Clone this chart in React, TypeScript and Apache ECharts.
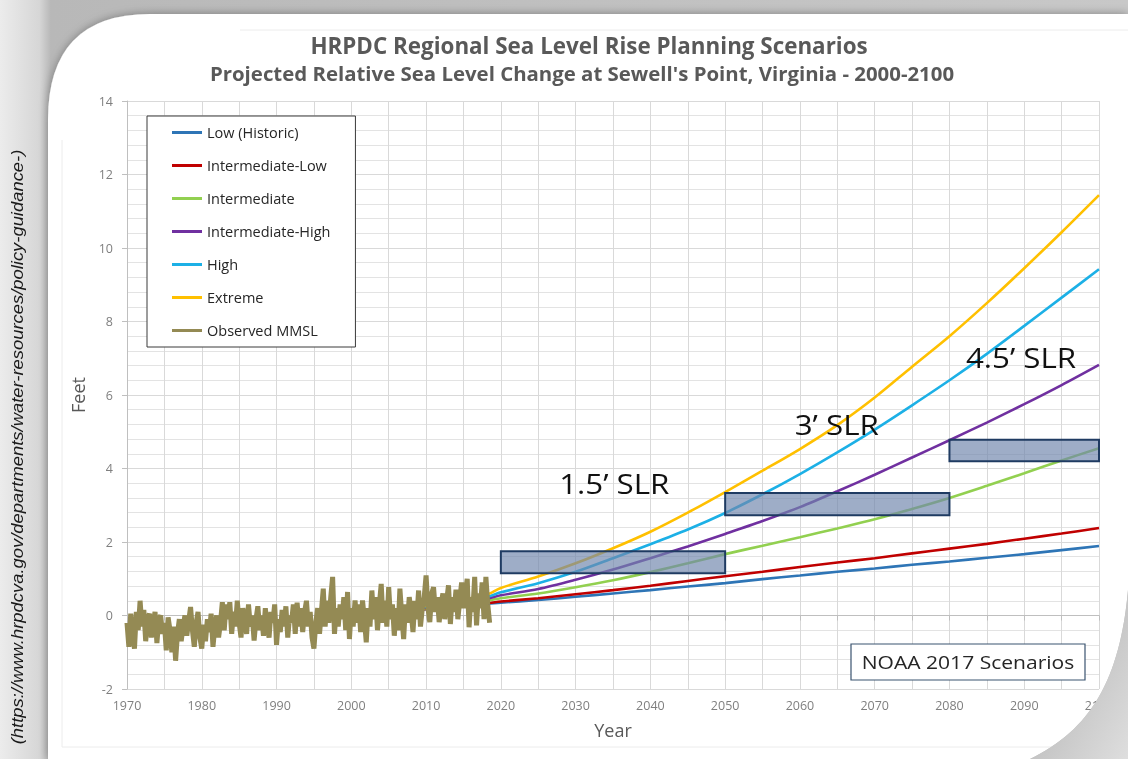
import React, { useEffect, useRef } from "react";
import * as echarts from "echarts";

// ---------- DATA ----------
const scenarioYears = [2000, 2010, 2018, 2020, 2025, 2030, 2035, 2040, 2045, 2050, 2055, 2060, 2065, 2070, 2075, 2080, 2085, 2090, 2095, 2100];
const lowHistoric = [0.0, 0.17, 0.32, 0.35, 0.42, 0.51, 0.6, 0.69, 0.79, 0.88, 0.99, 1.09, 1.19, 1.28, 1.38, 1.47, 1.57, 1.67, 1.78, 1.89];
const intermediateLow = [0.0, 0.18, 0.33, 0.38, 0.47, 0.58, 0.69, 0.81, 0.94, 1.07, 1.19, 1.32, 1.44, 1.56, 1.69, 1.82, 1.95, 2.09, 2.23, 2.38];
const intermediate = [0.0, 0.2, 0.4, 0.47, 0.6, 0.77, 0.96, 1.18, 1.42, 1.67, 1.9, 2.13, 2.37, 2.62, 2.9, 3.2, 3.53, 3.87, 4.22, 4.55];
const intermediateHigh = [0.0, 0.22, 0.45, 0.55, 0.72, 0.97, 1.25, 1.56, 1.88, 2.22, 2.57, 2.95, 3.38, 3.83, 4.3, 4.77, 5.25, 5.75, 6.27, 6.82];
const high = [0.0, 0.24, 0.5, 0.63, 0.88, 1.19, 1.56, 1.94, 2.34, 2.79, 3.3, 3.85, 4.44, 5.06, 5.72, 6.4, 7.12, 7.88, 8.65, 9.42];
const extreme = [0.0, 0.27, 0.56, 0.75, 1.06, 1.42, 1.83, 2.28, 2.8, 3.36, 3.94, 4.53, 5.18, 5.93, 6.77, 7.6, 8.5, 9.45, 10.43, 11.44];

// Observed MMSL: 4 readings per year starting 1970
const observedStartYear = 1970;
const observedStep = 0.25;
const observedMMSL = [
  -0.2, -0.85, 0.05, -0.55,
  -0.9, 0.1, -0.4, 0.4,
  -0.3, 0.15, -0.7, -0.1,
  0.05, -0.6, -0.2, 0.1,
  -0.75, -0.1, 0.0, -0.5,
  -0.2, -0.95, -0.05, -0.4,
  -1.0, -0.3, -1.23, -0.5,
  -0.1, -0.7, -0.3, 0.0,
  -0.55, -0.15, 0.23, -0.4,
  -0.85, -0.2, 0.1, -0.6,
  -0.9, -0.25, -0.7, -0.1,
  -0.45, 0.05, -0.85, -0.3,
  0.0, -0.6, -0.2, 0.36,
  -0.4, 0.3, -0.1, 0.36,
  -0.5, 0.1, -0.3, 0.4,
  -0.2, -0.6, 0.2, -0.1,
  -0.5, 0.3, -0.3, 0.0,
  -0.68, -0.1, 0.25, -0.4,
  0.0, -0.55, 0.2, -0.3,
  -0.6, 0.1, -0.2, 0.3,
  -0.8, -0.1, -0.45, 0.15,
  -0.3, 0.25, -0.6, 0.0,
  -0.2, 0.3, -0.5, 0.35,
  -0.3, 0.2, -0.45, 0.1,
  0.4, -0.3, 0.1, -0.6,
  -0.9, -0.2, 0.2, -0.5,
  0.1, 0.73, -0.3, 0.4,
  -0.2, 0.5, 1.05, -0.5,
  0.2, -0.3, 0.3, -0.1,
  0.5, -0.4, 0.64, -0.64,
  0.2, -0.3, 0.41, -0.2,
  0.3, -0.45, 0.41, -0.1,
  -0.73, 0.2, -0.3, 0.68,
  -0.1, 0.5, -0.4, 0.3,
  0.86, -0.2, 0.4, -0.3,
  0.77, -0.1, 0.3, -0.55,
  0.2, -0.4, 0.73, 0.0,
  -0.64, 0.3, -0.2, 0.5,
  0.1, -0.45, 0.4, -0.1,
  0.68, -0.3, 0.2, 0.5,
  1.09, 0.2, -0.18, 0.6,
  0.77, 0.1, 0.5, -0.18,
  0.3, 0.6, -0.1, 0.4,
  0.82, -0.23, 0.5, 0.1,
  0.7, -0.1, 0.4, 0.9,
  0.2, 0.6, 1.0, -0.32,
  0.5, 0.1, 1.05, -0.27,
  0.6, 0.2, 0.9, -0.1,
  1.05, 0.3, -0.2,
];

// SLR planning boxes: [startYear, endYear, lowFeet, highFeet]
const slrBoxes = [
  [2020, 2050, 1.15, 1.75],
  [2050, 2080, 2.73, 3.33],
  [2080, 2100, 4.2, 4.78],
];
const slrLabelText = ["1.5\u2019 SLR", "3\u2019 SLR", "4.5\u2019 SLR"];
const slrLabelPos = [
  [2027.8, 3.58],
  [2059.3, 5.18],
  [2082.2, 7.0],
];

const seriesNames = ["Low (Historic)", "Intermediate-Low", "Intermediate", "Intermediate-High", "High", "Extreme", "Observed MMSL"];
const seriesColors = ["#2e75b6", "#c00000", "#92d050", "#7030a0", "#1cb0e6", "#ffc000", "#948a54"];

const xTicks = { min: 1970, max: 2100, interval: 10 };
const yTicks = { min: -2, max: 14, interval: 2 };

const FONT = "'Open Sans', Lato, sans-serif";

const cardPath = "M48,120 Q48,14 150,14 L1128,14 L1128,590 C1120,680 1090,730 1030,759 L48,759 Z";
const cornerPath = "M1128,590 C1120,680 1090,730 1030,759 L1128,759 Z";

let registered = false;
function registerShapes() {
  if (registered) return;
  registered = true;
  echarts.graphic.registerShape("cardShape", echarts.graphic.extendPath(cardPath, {}));
  echarts.graphic.registerShape("cornerShape", echarts.graphic.extendPath(cornerPath, {}));
}

export default function App() {
  const ref = useRef<HTMLDivElement>(null);
  useEffect(() => {
    if (!ref.current) return;
    registerShapes();
    const chart = echarts.init(ref.current, undefined, { renderer: "svg" });

    const scenarioSets = [lowHistoric, intermediateLow, intermediate, intermediateHigh, high, extreme];
    const lineSeries: any[] = scenarioSets.map((vals, i) => ({
      name: seriesNames[i],
      type: "line",
      data: scenarioYears.map((yr, j) => [yr, vals[j]]),
      showSymbol: false,
      smooth: 0.3,
      lineStyle: { width: 2.6, color: seriesColors[i] },
      itemStyle: { color: seriesColors[i] },
      z: 3,
    }));
    lineSeries.push({
      name: seriesNames[6],
      type: "line",
      data: observedMMSL.map((v, i) => [observedStartYear + i * observedStep, v]),
      showSymbol: false,
      lineStyle: { width: 5, color: seriesColors[6] },
      itemStyle: { color: seriesColors[6] },
      z: 4,
    });
    lineSeries.push({
      type: "custom",
      silent: true,
      z: 10,
      data: slrBoxes,
      encode: { x: [0, 1], y: [2, 3] },
      renderItem: (params: any, api: any) => {
        const p0 = api.coord([api.value(0), api.value(3)]);
        const p1 = api.coord([api.value(1), api.value(2)]);
        return {
          type: "rect",
          shape: { x: p0[0], y: p0[1], width: p1[0] - p0[0], height: p1[1] - p0[1] },
          style: { fill: "rgba(112,134,172,0.68)", stroke: "#1f3b62", lineWidth: 2 },
        };
      },
    });
    lineSeries.push({
      type: "custom",
      silent: true,
      z: 11,
      data: slrLabelPos,
      renderItem: (params: any, api: any) => {
        const p = api.coord([api.value(0), api.value(1)]);
        return {
          type: "text",
          x: p[0],
          y: p[1],
          scaleX: 1.16,
          style: {
            text: slrLabelText[params.dataIndex],
            fontSize: 27,
            fontFamily: FONT,
            fill: "#111",
            align: "left",
            verticalAlign: "middle",
          },
        };
      },
    });

    const option: any = {
      animation: false,
      backgroundColor: "transparent",
      grid: { left: 127, right: 29, top: 101, bottom: 70, containLabel: false },
      xAxis: {
        type: "value",
        min: xTicks.min,
        max: xTicks.max,
        interval: xTicks.interval,
        name: "Year",
        nameLocation: "middle",
        nameGap: 32,
        nameTextStyle: { fontSize: 18, color: "#595959", fontFamily: FONT },
        axisLine: { show: true, lineStyle: { color: "#bfbfbf" } },
        axisTick: { show: true, length: 5, lineStyle: { color: "#bfbfbf" } },
        minorTick: { show: true, splitNumber: 2, length: 5, lineStyle: { color: "#bfbfbf" } },
        splitLine: { show: true, lineStyle: { color: "#d9d9d9", width: 1 } },
        minorSplitLine: { show: true, lineStyle: { color: "#d9d9d9", width: 1 } },
        axisLabel: { color: "#7f7f7f", fontSize: 12.5, margin: 10, fontFamily: FONT, formatter: (v: number) => String(v) },
      },
      yAxis: {
        type: "value",
        min: yTicks.min,
        max: yTicks.max,
        interval: yTicks.interval,
        name: "Feet",
        nameLocation: "middle",
        nameGap: 40,
        nameRotate: 90,
        nameTextStyle: { fontSize: 18, color: "#595959", fontFamily: FONT },
        axisLine: { show: true, lineStyle: { color: "#bfbfbf" } },
        axisTick: { show: true, length: 5, lineStyle: { color: "#bfbfbf" } },
        minorTick: { show: false },
        splitLine: { show: true, lineStyle: { color: "#d9d9d9", width: 1 } },
        minorSplitLine: { show: true, lineStyle: { color: "#e3e3e3", width: 1 } },
        axisLabel: { color: "#7f7f7f", fontSize: 12.5, margin: 14, fontFamily: FONT, formatter: (v: number) => String(v) },
      },
      legend: {
        orient: "vertical",
        left: 147,
        top: 116,
        data: seriesNames,
        icon: "rect",
        itemWidth: 30,
        itemHeight: 3,
        itemGap: 18,
        itemTextGap: 2,
        padding: [9, 25, 9, 25],
        backgroundColor: "#ffffff",
        borderColor: "#3a3a3a",
        borderWidth: 1,
        selectedMode: false,
        textStyle: { fontSize: 14.5, color: "#262626", fontFamily: FONT, lineHeight: 14 },
      },
      graphic: [
        { type: "rect", z: -30, silent: true, shape: { x: 0, y: 0, width: 1128, height: 759 },
          style: { fill: new echarts.graphic.LinearGradient(0, 0, 1, 0, [
            { offset: 0, color: "#ececec" }, { offset: 0.035, color: "#d6d6d6" }, { offset: 0.045, color: "#b8b8b8" }, { offset: 1, color: "#c8c8c8" }]) } },
        { type: "cardShape", z: -20, silent: true, x: 0, y: 0, scaleX: 1, scaleY: 1,
          style: { fill: "#ffffff", shadowBlur: 10, shadowColor: "rgba(0,0,0,0.35)", shadowOffsetX: 0, shadowOffsetY: 0 } },
        { type: "line", z: -19, silent: true, shape: { x1: 240, y1: 30, x2: 1128, y2: 30 }, style: { stroke: "#ececec", lineWidth: 1 } },
        { type: "line", z: -19, silent: true, shape: { x1: 62, y1: 140, x2: 62, y2: 747 }, style: { stroke: "#ececec", lineWidth: 1 } },
        { type: "line", z: -19, silent: true, shape: { x1: 62, y1: 747, x2: 1060, y2: 747 }, style: { stroke: "#ececec", lineWidth: 1 } },
        { type: "cornerShape", z: 100, silent: true, x: 0, y: 0, scaleX: 1, scaleY: 1,
          style: { fill: new echarts.graphic.LinearGradient(0, 0, 1, 1, [
            { offset: 0, color: "#a9a9a9" }, { offset: 0.5, color: "#c4c4c4" }, { offset: 1, color: "#dedede" }]) } },
        { type: "text", z: 50, silent: true, x: 589, y: 45,
          style: { text: "HRPDC Regional Sea Level Rise Planning Scenarios", fontSize: 22.4, fontWeight: "bold", fontFamily: FONT, fill: "#595959", align: "center", verticalAlign: "middle" } },
        { type: "text", z: 50, silent: true, x: 582, y: 73,
          style: { text: "Projected Relative Sea Level Change at Sewell's Point, Virginia - 2000-2100", fontSize: 20.4, fontWeight: "bold", fontFamily: FONT, fill: "#595959", align: "center", verticalAlign: "middle" } },
        { type: "group", z: 50, silent: true, children: [
          { type: "rect", shape: { x: 851, y: 644, width: 234, height: 36 }, style: { fill: "#ffffff", stroke: "#3b5470", lineWidth: 1.2 }, z: 50 },
          { type: "text", x: 968, y: 662, z: 51, scaleX: 1.17, style: { text: "NOAA 2017 Scenarios", fontSize: 18, fontFamily: FONT, fill: "#262626", align: "center", verticalAlign: "middle" } },
        ] },
        { type: "text", z: 50, silent: true, x: 17, y: 447, rotation: Math.PI / 2, scaleX: 1.15, scaleY: 1,
          style: { text: "(https://www.hrpdcva.gov/departments/water-resources/policy-guidance-)", fontSize: 16, fontStyle: "italic", fontFamily: "'Liberation Sans', Arial, sans-serif", fill: "#1a1a1a", align: "center", verticalAlign: "middle" } },
      ],
      series: lineSeries,
    };
    chart.setOption(option);
    return () => chart.dispose();
  }, []);
  return <div ref={ref} style={{ position: "fixed", left: 0, top: 0, width: 1128, height: 759 }} />;
}
